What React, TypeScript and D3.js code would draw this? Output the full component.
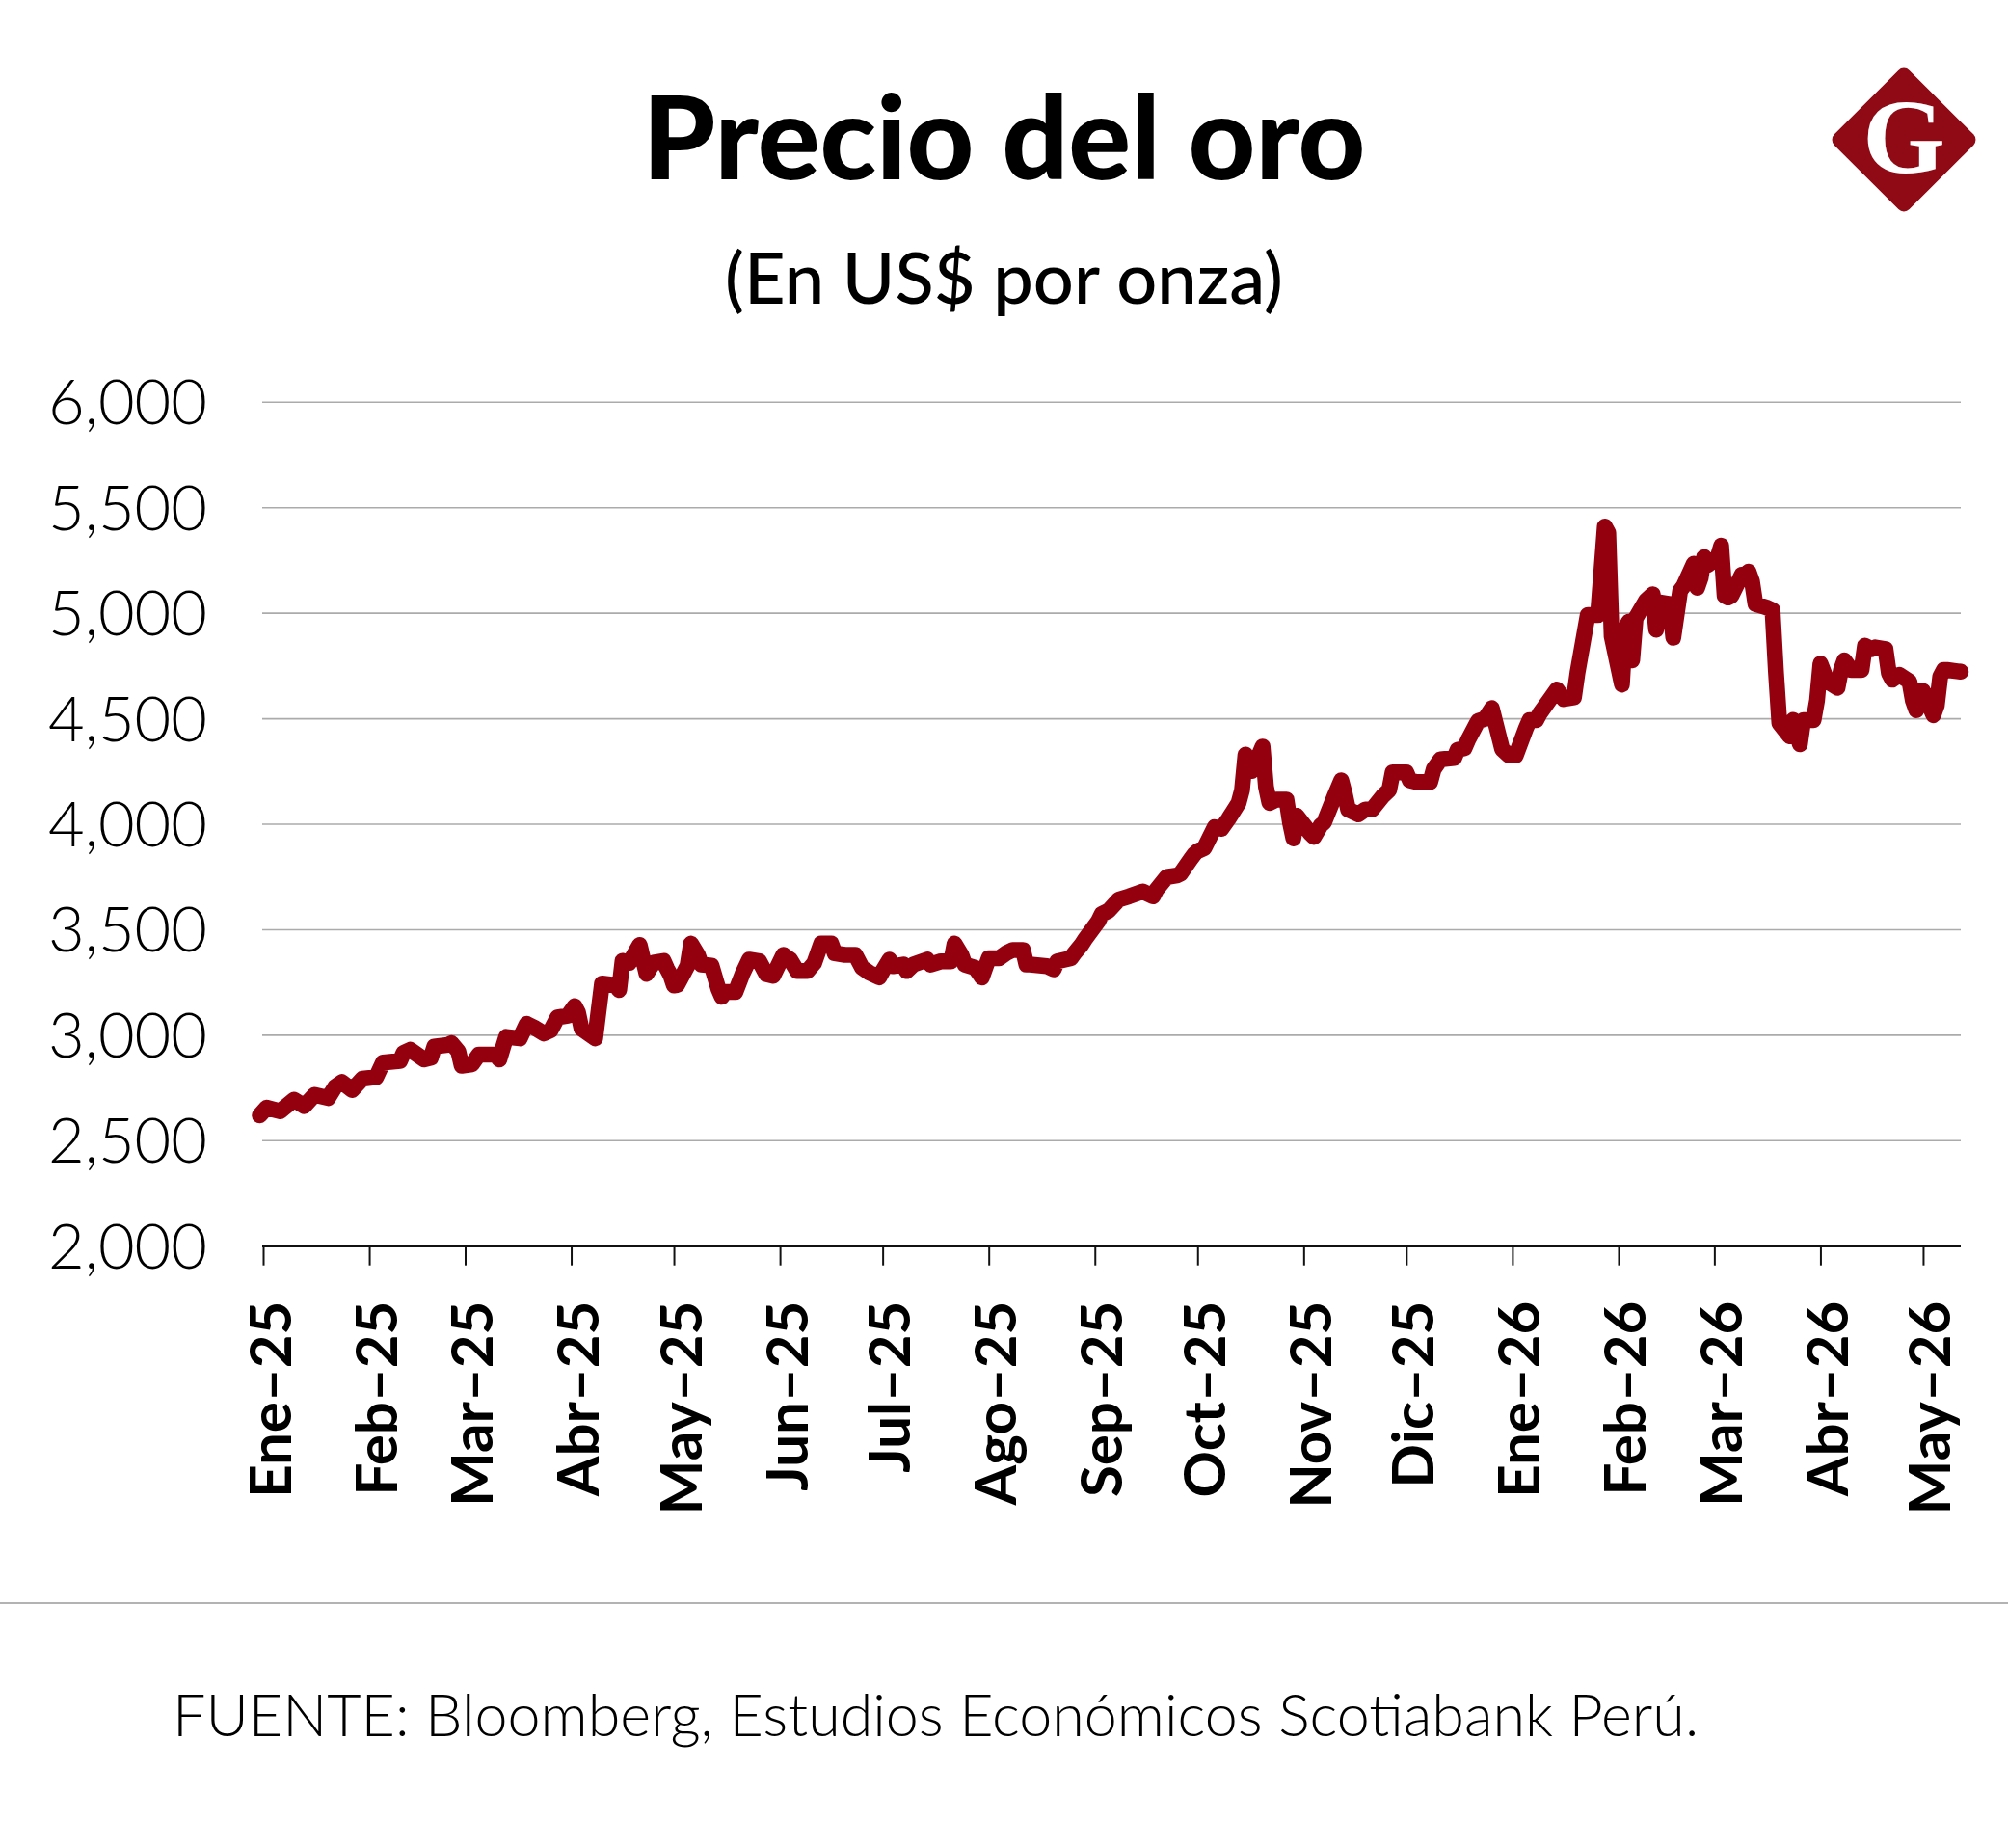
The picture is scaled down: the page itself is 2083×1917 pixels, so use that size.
import React, { useRef, useEffect } from 'react';
import * as d3 from 'd3';

const W = 2083;
const H = 1917;

// precio del oro, US$ por onza
const dates = [
  '2024-12-31', '2025-01-02', '2025-01-06', '2025-01-10', '2025-01-13', '2025-01-16', '2025-01-20', '2025-01-22',
  '2025-01-24', '2025-01-27', '2025-01-30', '2025-02-03', '2025-02-05', '2025-02-10', '2025-02-11', '2025-02-13',
  '2025-02-17', '2025-02-19', '2025-02-20', '2025-02-24', '2025-02-25', '2025-02-27', '2025-02-28', '2025-03-03',
  '2025-03-05', '2025-03-10', '2025-03-11', '2025-03-13', '2025-03-17', '2025-03-19', '2025-03-21', '2025-03-24',
  '2025-03-26', '2025-03-28', '2025-03-31', '2025-04-02', '2025-04-03', '2025-04-04', '2025-04-08', '2025-04-10',
  '2025-04-14', '2025-04-15', '2025-04-16', '2025-04-18', '2025-04-21', '2025-04-23', '2025-04-25', '2025-04-28',
  '2025-04-29', '2025-04-30', '2025-05-01', '2025-05-02', '2025-05-05', '2025-05-06', '2025-05-08', '2025-05-09',
  '2025-05-12', '2025-05-14', '2025-05-15', '2025-05-16', '2025-05-19', '2025-05-21', '2025-05-23', '2025-05-26',
  '2025-05-28', '2025-05-30', '2025-06-02', '2025-06-04', '2025-06-06', '2025-06-09', '2025-06-11', '2025-06-13',
  '2025-06-16', '2025-06-17', '2025-06-20', '2025-06-23', '2025-06-25', '2025-06-27', '2025-06-30', '2025-07-01',
  '2025-07-03', '2025-07-04', '2025-07-07', '2025-07-08', '2025-07-10', '2025-07-14', '2025-07-15', '2025-07-18',
  '2025-07-21', '2025-07-22', '2025-07-24', '2025-07-25', '2025-07-28', '2025-07-30', '2025-08-01', '2025-08-04',
  '2025-08-06', '2025-08-08', '2025-08-11', '2025-08-12', '2025-08-13', '2025-08-18', '2025-08-20', '2025-08-21',
  '2025-08-25', '2025-08-26', '2025-08-28', '2025-08-29', '2025-09-02', '2025-09-03', '2025-09-05', '2025-09-08',
  '2025-09-11', '2025-09-15', '2025-09-18', '2025-09-19', '2025-09-22', '2025-09-25', '2025-09-26', '2025-09-29',
  '2025-09-30', '2025-10-01', '2025-10-03', '2025-10-06', '2025-10-08', '2025-10-10', '2025-10-13', '2025-10-14',
  '2025-10-15', '2025-10-17', '2025-10-20', '2025-10-21', '2025-10-22', '2025-10-24', '2025-10-27', '2025-10-28',
  '2025-10-29', '2025-10-30', '2025-11-03', '2025-11-04', '2025-11-06', '2025-11-07', '2025-11-10', '2025-11-12',
  '2025-11-13', '2025-11-14', '2025-11-17', '2025-11-19', '2025-11-21', '2025-11-24', '2025-11-26', '2025-11-27',
  '2025-12-01', '2025-12-02', '2025-12-04', '2025-12-08', '2025-12-09', '2025-12-11', '2025-12-15', '2025-12-16',
  '2025-12-18', '2025-12-19', '2025-12-22', '2025-12-24', '2025-12-26', '2025-12-29', '2025-12-31', '2026-01-02',
  '2026-01-05', '2026-01-06', '2026-01-08', '2026-01-09', '2026-01-12', '2026-01-14', '2026-01-16', '2026-01-19',
  '2026-01-20', '2026-01-23', '2026-01-26', '2026-01-28', '2026-01-29', '2026-01-30', '2026-02-02', '2026-02-03',
  '2026-02-04', '2026-02-05', '2026-02-06', '2026-02-09', '2026-02-11', '2026-02-12', '2026-02-13', '2026-02-16',
  '2026-02-17', '2026-02-19', '2026-02-20', '2026-02-23', '2026-02-24', '2026-02-25', '2026-02-26', '2026-02-27',
  '2026-03-02', '2026-03-03', '2026-03-04', '2026-03-05', '2026-03-06', '2026-03-09', '2026-03-10', '2026-03-11',
  '2026-03-12', '2026-03-13', '2026-03-16', '2026-03-18', '2026-03-19', '2026-03-20', '2026-03-23', '2026-03-24',
  '2026-03-26', '2026-03-27', '2026-03-30', '2026-03-31', '2026-04-01', '2026-04-03', '2026-04-06', '2026-04-07',
  '2026-04-08', '2026-04-10', '2026-04-13', '2026-04-14', '2026-04-16', '2026-04-17', '2026-04-20', '2026-04-21',
  '2026-04-22', '2026-04-24', '2026-04-27', '2026-04-28', '2026-04-29', '2026-04-30', '2026-05-01', '2026-05-04',
  '2026-05-05', '2026-05-06', '2026-05-07', '2026-05-08', '2026-05-11', '2026-05-12',
];

const prices = [
  2620, 2656, 2640, 2694, 2664, 2717, 2702, 2755,
  2778, 2740, 2794, 2801, 2870, 2878, 2916, 2931,
  2885, 2893, 2946, 2954, 2962, 2924, 2855, 2862,
  2908, 2908, 2885, 2992, 2985, 3054, 3038, 3008,
  3023, 3084, 3092, 3138, 3107, 3031, 2985, 3245,
  3237, 3214, 3352, 3344, 3428, 3291, 3344, 3352,
  3315, 3285, 3236, 3238, 3330, 3434, 3381, 3335,
  3330, 3220, 3182, 3205, 3205, 3289, 3358, 3350,
  3289, 3281, 3381, 3358, 3304, 3304, 3342, 3434,
  3434, 3388, 3381, 3381, 3320, 3297, 3274, 3304,
  3358, 3327, 3335, 3304, 3335, 3358, 3335, 3350,
  3350, 3434, 3381, 3335, 3320, 3274, 3365, 3365,
  3388, 3404, 3404, 3335, 3335, 3327, 3312, 3350,
  3365, 3388, 3427, 3452, 3540, 3574, 3590, 3643,
  3658, 3681, 3658, 3690, 3750, 3757, 3765, 3835,
  3857, 3872, 3887, 3986, 3979, 4024, 4101, 4162,
  4330, 4253, 4368, 4177, 4101, 4116, 4116, 4009,
  3933, 4040, 3956, 3940, 3994, 4009, 4131, 4208,
  4146, 4070, 4047, 4070, 4070, 4131, 4162, 4246,
  4246, 4208, 4200, 4200, 4261, 4307, 4314, 4353,
  4360, 4398, 4490, 4500, 4550, 4356, 4326, 4326,
  4456, 4494, 4494, 4525, 4593, 4639, 4593, 4601,
  4716, 4991, 4991, 5411, 5381, 4891, 4662, 4930,
  4960, 4777, 4976, 5060, 5090, 4922, 5052, 5044,
  4884, 5106, 5128, 5235, 5121, 5167, 5266, 5228,
  5266, 5320, 5083, 5075, 5083, 5182, 5182, 5197,
  5151, 5044, 5029, 5014, 4723, 4479, 4417, 4494,
  4379, 4494, 4494, 4586, 4761, 4677, 4647, 4731,
  4777, 4731, 4731, 4846, 4830, 4838, 4830, 4716,
  4685, 4708, 4677, 4586, 4540, 4631, 4631, 4517,
  4563, 4700, 4731, 4731, 4725, 4723,
];

const yTicks = [2000, 2500, 3000, 3500, 4000, 4500, 5000, 5500, 6000];
const monthNames = ['Ene', 'Feb', 'Mar', 'Abr', 'May', 'Jun', 'Jul', 'Ago', 'Sep', 'Oct', 'Nov', 'Dic'];
const xStart = '2025-01-01';
const xEnd = '2026-05-12';

const RED = '#95000f';

const App = () => {
  const ref = useRef<SVGSVGElement>(null);

  useEffect(() => {
    const svg = d3.select(ref.current);
    svg.selectAll('*').remove();

    const parse = d3.timeParse('%Y-%m-%d');
    const data = dates.map((d, i) => ({ date: parse(d) as Date, value: prices[i] }));

    const left = 273, right = 2034, top = 417.3, bottom = 1292.7;

    const x = d3.scaleTime()
      .domain([parse(xStart) as Date, parse(xEnd) as Date])
      .range([left, right]);

    const y = d3.scaleLinear()
      .domain([2000, 6000])
      .range([bottom, top]);

    svg.append('rect').attr('width', W).attr('height', H).attr('fill', '#fff');

    // titulo
    svg.append('text')
      .attr('x', W / 2).attr('y', 186)
      .attr('text-anchor', 'middle')
      .style('font-family', 'Lato')
      .style('font-weight', 900)
      .style('font-size', '121px')
      .text('Precio del oro');

    svg.append('text')
      .attr('x', W / 2).attr('y', 315)
      .attr('text-anchor', 'middle')
      .style('font-family', 'Lato')
      .style('font-weight', 500)
      .style('font-size', '74px')
      .text('(En US$ por onza)');

    // logo
    const logo = svg.append('g').attr('transform', 'translate(1975,145)');
    logo.append('rect')
      .attr('x', -55).attr('y', -55).attr('width', 110).attr('height', 110)
      .attr('rx', 8)
      .attr('transform', 'rotate(45)')
      .attr('fill', '#8f0a15');
    logo.append('text')
      .attr('x', 0).attr('y', 34)
      .attr('text-anchor', 'middle')
      .attr('fill', '#fff')
      .style('font-family', '"Liberation Serif"')
      .style('font-weight', 700)
      .style('font-size', '110px')
      .text('G');

    // grid
    svg.append('g')
      .selectAll('line')
      .data(yTicks.filter(t => t > 2000))
      .join('line')
      .attr('x1', left - 1).attr('x2', right)
      .attr('y1', d => y(d)).attr('y2', d => y(d))
      .attr('stroke', '#ababab')
      .attr('stroke-width', 1.6);

    svg.append('g')
      .selectAll('text')
      .data(yTicks)
      .join('text')
      .attr('x', 215)
      .attr('y', d => y(d) + 23)
      .attr('text-anchor', 'end')
      .style('font-family', 'Lato')
      .style('font-weight', 300)
      .style('font-size', '65px')
      .text(d => d3.format(',')(d));

    // eje x
    const xAxis = d3.axisBottom(x)
      .ticks(d3.timeMonth.every(1))
      .tickSize(20)
      .tickSizeOuter(0)
      .tickFormat(d => {
        const dt = d as Date;
        return `${monthNames[dt.getMonth()]}–${d3.timeFormat('%y')(dt)}`;
      });

    svg.append('g')
      .attr('transform', `translate(0,${bottom})`)
      .call(xAxis)
      .call(g => g.select('.domain').attr('stroke', '#111').attr('stroke-width', 2.5).attr('d', `M${left - 1},0H${right}`))
      .call(g => g.selectAll('.tick line').attr('stroke', '#111').attr('stroke-width', 2))
      .call(g => g.selectAll('.tick text')
        .attr('transform', 'rotate(-90)')
        .attr('x', -57)
        .attr('y', 28)
        .attr('dy', null)
        .attr('text-anchor', 'end')
        .attr('fill', '#000')
        .style('font-family', 'Lato')
        .style('font-weight', 700)
        .style('font-size', '60px'));

    // linea
    const line = d3.line<{ date: Date; value: number }>()
      .x(d => x(d.date))
      .y(d => y(d.value));

    svg.append('path')
      .datum(data)
      .attr('fill', 'none')
      .attr('stroke', RED)
      .attr('stroke-width', 16.5)
      .attr('stroke-linejoin', 'round')
      .attr('stroke-linecap', 'round')
      .attr('d', line);

    // pie
    svg.append('line')
      .attr('x1', 0).attr('x2', W)
      .attr('y1', 1663).attr('y2', 1663)
      .attr('stroke', '#b3b3b3')
      .attr('stroke-width', 2);

    svg.append('text')
      .attr('x', 179).attr('y', 1801)
      .style('font-family', 'Lato')
      .style('font-weight', 300)
      .style('font-size', '61px')
      .text('FUENTE: Bloomberg, Estudios Económicos Scotiabank Perú.');
  }, []);

  return (
    <svg ref={ref} width={W} height={H} style={{ position: 'absolute', left: 0, top: 0 }}></svg>
  );
};

export default App;
